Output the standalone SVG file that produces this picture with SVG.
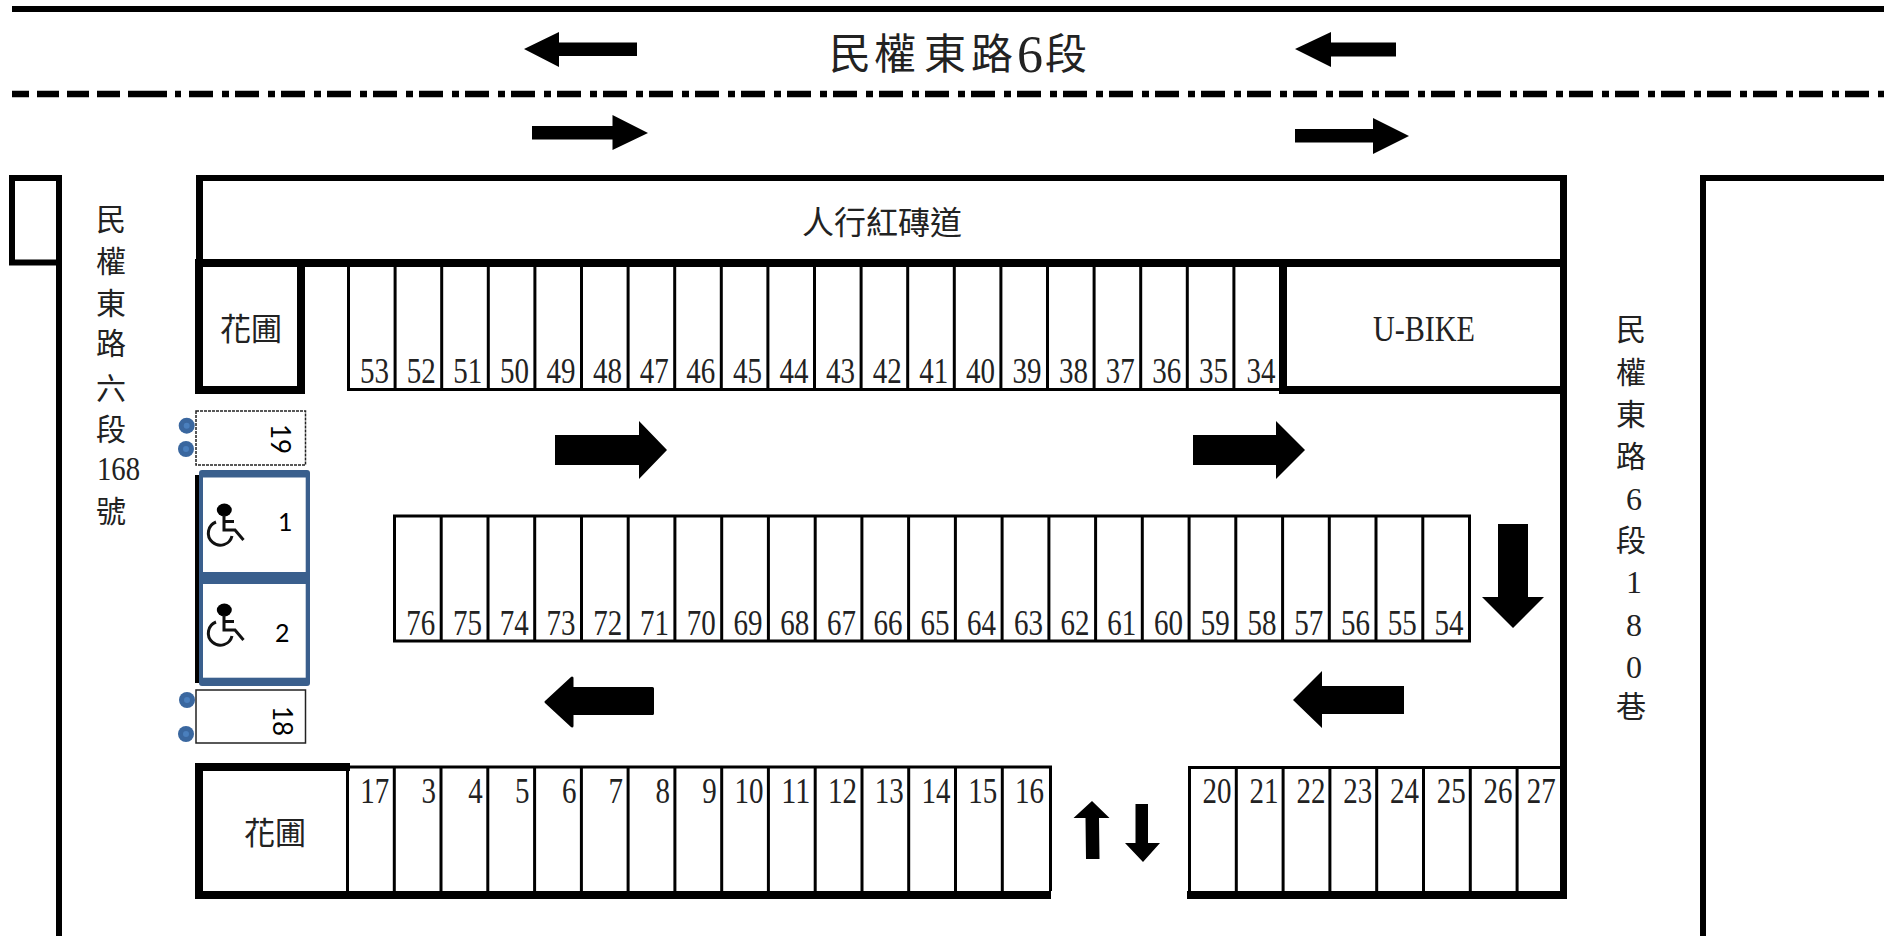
<svg xmlns="http://www.w3.org/2000/svg" width="1884" height="936" viewBox="0 0 1884 936">
<style>
.cjk{font-family:"Liberation Serif","Noto Sans CJK TC","Noto Sans CJK SC",serif;fill:#222;font-size:30px}
.n{font-family:"Liberation Serif",serif;font-size:35px;fill:#222;text-anchor:end}
.s{font-family:Lato,"Open Sans",sans-serif;font-size:25px;fill:#000}
.thin{fill:none;stroke:#000;stroke-width:3}
.wall{fill:#000}
.dot{fill:#3a679f}
.dotc{fill:#4a7fbd}
.box{fill:#fff;stroke:#222;stroke-width:1.5}
</style>
<defs>
<g id="wc"><ellipse cx="224.300" cy="510" rx="7.500" ry="6.500" fill="#000"/><path d="M224 515V530H235L243.500 540M224 521.500H234M216 522A12 12 0 1 0 232 536" fill="none" stroke="#111" stroke-width="3"/></g>
</defs>
<rect width="1884" height="936" fill="#fff"/>

<g id="road">
<rect class="wall" x="12" y="6" width="1872" height="6"/>
<path d="M12 94H29M37 94H59M67 94H89M97 94H120M128 94H167M175 94H181" stroke="#000" stroke-width="6.500" fill="none"/>
<path d="M189 94H1884" stroke="#000" stroke-width="6.500" stroke-dasharray="24 9 7 6" fill="none"/>
<path class="wall" d="M524 49L559 32V42.500H637V56H559V67Z"/>
<path class="wall" d="M532 126H612.500V115L648 133L612.500 150V139.500H532Z"/>
<path class="wall" d="M1295 49L1331 32V42.500H1396V56.500H1331V67Z"/>
<path class="wall" d="M1295 129H1373V118L1409 136L1373 154V142.500H1295Z"/>
<text class="cjk" style="font-size:42px" y="69"><tspan x="829 874 924 971">民權東路</tspan><tspan x="1017" style="font-size:52px" y="72">6</tspan><tspan x="1045" y="69">段</tspan></text>
</g>

<g id="buildings">
<path d="M59 936V262.500H12V178H59V262" fill="none" stroke="#000" stroke-width="6"/>
<path d="M1703 936V178H1884" fill="none" stroke="#000" stroke-width="6"/>
</g>

<g id="walls">
<rect class="wall" x="196" y="175" width="1370" height="6"/>
<rect class="wall" x="196" y="175" width="7" height="90"/>
<rect class="wall" x="1560" y="175" width="7" height="724"/>
<rect class="wall" x="195" y="259" width="1372" height="8"/>
<rect class="wall" x="195" y="259" width="8" height="135"/>
<rect class="wall" x="297" y="259" width="8" height="135"/>
<rect class="wall" x="195" y="386" width="110" height="8"/>
<rect class="wall" x="1279" y="259" width="8" height="135"/>
<rect class="wall" x="1279" y="386" width="288" height="8"/>
<rect class="wall" x="195" y="763" width="155" height="8"/>
<rect class="wall" x="195" y="763" width="8" height="136"/>
<rect class="wall" x="195" y="891" width="856" height="8"/>
<rect class="wall" x="1187" y="891" width="380" height="8"/>
</g>

<g id="stalls">
<path class="thin" d="M348.500 267V389.500H1280M395.100 267V389M441.700 267V389M488.300 267V389M534.900 267V389M581.500 267V389M628.100 267V389M674.700 267V389M721.300 267V389M767.900 267V389M814.500 267V389M861.100 267V389M907.700 267V389M954.300 267V389M1000.900 267V389M1047.500 267V389M1094.100 267V389M1140.700 267V389M1187.300 267V389M1233.900 267V389"/>
<rect class="thin" x="394.500" y="516" width="1075" height="125"/>
<path class="thin" d="M441.200 516V641M488 516V641M534.700 516V641M581.500 516V641M628.200 516V641M674.900 516V641M721.700 516V641M768.400 516V641M815.200 516V641M861.900 516V641M908.600 516V641M955.400 516V641M1002.100 516V641M1048.900 516V641M1095.600 516V641M1142.300 516V641M1189.100 516V641M1235.800 516V641M1282.600 516V641M1329.300 516V641M1376 516V641M1422.800 516V641"/>
<path class="thin" d="M347.500 767V891M350 767H1050.500V891M394.300 767V891M441 767V891M487.800 767V891M534.600 767V891M581.400 767V891M628.100 767V891M674.900 767V891M721.700 767V891M768.400 767V891M815.200 767V891M862 767V891M908.700 767V891M955.500 767V891M1002.300 767V891"/>
<path class="thin" d="M1189.500 891V767.500H1560M1236.300 767V891M1283.100 767V891M1329.900 767V891M1376.700 767V891M1423.500 767V891M1470.300 767V891M1517.100 767V891"/>
</g>

<g id="labels-top">
<text class="n" x="389.100" y="383" textLength="29" lengthAdjust="spacingAndGlyphs">53</text>
<text class="n" x="435.700" y="383" textLength="29" lengthAdjust="spacingAndGlyphs">52</text>
<text class="n" x="482.300" y="383" textLength="29" lengthAdjust="spacingAndGlyphs">51</text>
<text class="n" x="528.900" y="383" textLength="29" lengthAdjust="spacingAndGlyphs">50</text>
<text class="n" x="575.500" y="383" textLength="29" lengthAdjust="spacingAndGlyphs">49</text>
<text class="n" x="622.100" y="383" textLength="29" lengthAdjust="spacingAndGlyphs">48</text>
<text class="n" x="668.700" y="383" textLength="29" lengthAdjust="spacingAndGlyphs">47</text>
<text class="n" x="715.300" y="383" textLength="29" lengthAdjust="spacingAndGlyphs">46</text>
<text class="n" x="761.900" y="383" textLength="29" lengthAdjust="spacingAndGlyphs">45</text>
<text class="n" x="808.500" y="383" textLength="29" lengthAdjust="spacingAndGlyphs">44</text>
<text class="n" x="855.100" y="383" textLength="29" lengthAdjust="spacingAndGlyphs">43</text>
<text class="n" x="901.700" y="383" textLength="29" lengthAdjust="spacingAndGlyphs">42</text>
<text class="n" x="948.300" y="383" textLength="29" lengthAdjust="spacingAndGlyphs">41</text>
<text class="n" x="994.900" y="383" textLength="29" lengthAdjust="spacingAndGlyphs">40</text>
<text class="n" x="1041.500" y="383" textLength="29" lengthAdjust="spacingAndGlyphs">39</text>
<text class="n" x="1088.100" y="383" textLength="29" lengthAdjust="spacingAndGlyphs">38</text>
<text class="n" x="1134.700" y="383" textLength="29" lengthAdjust="spacingAndGlyphs">37</text>
<text class="n" x="1181.300" y="383" textLength="29" lengthAdjust="spacingAndGlyphs">36</text>
<text class="n" x="1227.900" y="383" textLength="29" lengthAdjust="spacingAndGlyphs">35</text>
<text class="n" x="1275.500" y="383" textLength="29" lengthAdjust="spacingAndGlyphs">34</text>
</g>

<g id="labels-middle">
<text class="n" x="435.200" y="635" textLength="29" lengthAdjust="spacingAndGlyphs">76</text>
<text class="n" x="482" y="635" textLength="29" lengthAdjust="spacingAndGlyphs">75</text>
<text class="n" x="528.700" y="635" textLength="29" lengthAdjust="spacingAndGlyphs">74</text>
<text class="n" x="575.500" y="635" textLength="29" lengthAdjust="spacingAndGlyphs">73</text>
<text class="n" x="622.200" y="635" textLength="29" lengthAdjust="spacingAndGlyphs">72</text>
<text class="n" x="668.900" y="635" textLength="29" lengthAdjust="spacingAndGlyphs">71</text>
<text class="n" x="715.700" y="635" textLength="29" lengthAdjust="spacingAndGlyphs">70</text>
<text class="n" x="762.400" y="635" textLength="29" lengthAdjust="spacingAndGlyphs">69</text>
<text class="n" x="809.200" y="635" textLength="29" lengthAdjust="spacingAndGlyphs">68</text>
<text class="n" x="855.900" y="635" textLength="29" lengthAdjust="spacingAndGlyphs">67</text>
<text class="n" x="902.600" y="635" textLength="29" lengthAdjust="spacingAndGlyphs">66</text>
<text class="n" x="949.400" y="635" textLength="29" lengthAdjust="spacingAndGlyphs">65</text>
<text class="n" x="996.100" y="635" textLength="29" lengthAdjust="spacingAndGlyphs">64</text>
<text class="n" x="1042.900" y="635" textLength="29" lengthAdjust="spacingAndGlyphs">63</text>
<text class="n" x="1089.600" y="635" textLength="29" lengthAdjust="spacingAndGlyphs">62</text>
<text class="n" x="1136.300" y="635" textLength="29" lengthAdjust="spacingAndGlyphs">61</text>
<text class="n" x="1183.100" y="635" textLength="29" lengthAdjust="spacingAndGlyphs">60</text>
<text class="n" x="1229.800" y="635" textLength="29" lengthAdjust="spacingAndGlyphs">59</text>
<text class="n" x="1276.600" y="635" textLength="29" lengthAdjust="spacingAndGlyphs">58</text>
<text class="n" x="1323.300" y="635" textLength="29" lengthAdjust="spacingAndGlyphs">57</text>
<text class="n" x="1370" y="635" textLength="29" lengthAdjust="spacingAndGlyphs">56</text>
<text class="n" x="1416.800" y="635" textLength="29" lengthAdjust="spacingAndGlyphs">55</text>
<text class="n" x="1463.500" y="635" textLength="29" lengthAdjust="spacingAndGlyphs">54</text>
</g>

<g id="labels-bottom">
<text class="n" x="389.300" y="803" textLength="29" lengthAdjust="spacingAndGlyphs">17</text>
<text class="n" x="436" y="803" textLength="14.500" lengthAdjust="spacingAndGlyphs">3</text>
<text class="n" x="482.800" y="803" textLength="14.500" lengthAdjust="spacingAndGlyphs">4</text>
<text class="n" x="529.600" y="803" textLength="14.500" lengthAdjust="spacingAndGlyphs">5</text>
<text class="n" x="576.400" y="803" textLength="14.500" lengthAdjust="spacingAndGlyphs">6</text>
<text class="n" x="623.100" y="803" textLength="14.500" lengthAdjust="spacingAndGlyphs">7</text>
<text class="n" x="669.900" y="803" textLength="14.500" lengthAdjust="spacingAndGlyphs">8</text>
<text class="n" x="716.700" y="803" textLength="14.500" lengthAdjust="spacingAndGlyphs">9</text>
<text class="n" x="763.400" y="803" textLength="29" lengthAdjust="spacingAndGlyphs">10</text>
<text class="n" x="810.200" y="803" textLength="29" lengthAdjust="spacingAndGlyphs">11</text>
<text class="n" x="857" y="803" textLength="29" lengthAdjust="spacingAndGlyphs">12</text>
<text class="n" x="903.700" y="803" textLength="29" lengthAdjust="spacingAndGlyphs">13</text>
<text class="n" x="950.500" y="803" textLength="29" lengthAdjust="spacingAndGlyphs">14</text>
<text class="n" x="997.300" y="803" textLength="29" lengthAdjust="spacingAndGlyphs">15</text>
<text class="n" x="1044" y="803" textLength="29" lengthAdjust="spacingAndGlyphs">16</text>
<text class="n" x="1231.500" y="803" textLength="29" lengthAdjust="spacingAndGlyphs">20</text>
<text class="n" x="1278.600" y="803" textLength="29" lengthAdjust="spacingAndGlyphs">21</text>
<text class="n" x="1325.400" y="803" textLength="29" lengthAdjust="spacingAndGlyphs">22</text>
<text class="n" x="1372.200" y="803" textLength="29" lengthAdjust="spacingAndGlyphs">23</text>
<text class="n" x="1419" y="803" textLength="29" lengthAdjust="spacingAndGlyphs">24</text>
<text class="n" x="1465.800" y="803" textLength="29" lengthAdjust="spacingAndGlyphs">25</text>
<text class="n" x="1512.600" y="803" textLength="29" lengthAdjust="spacingAndGlyphs">26</text>
<text class="n" x="1555.700" y="803" textLength="29" lengthAdjust="spacingAndGlyphs">27</text>
</g>

<g id="arrows">
<path class="wall" d="M555 435H639V421L667 450L639 479V465H555Z"/>
<path class="wall" d="M1193 435H1276V421L1305 450L1276 479V465H1193Z"/>
<path class="wall" d="M1498 524H1528V597H1544L1513 628L1482 597H1498Z"/>
<path class="wall" d="M1293 700L1322 671V686H1404V714H1322V728Z"/>
<path class="wall" stroke="#000" stroke-width="3" stroke-linejoin="round" d="M546 702L572 678V688.500H652.500V713.500H572V726Z"/>
<path class="wall" d="M1092 801L1109.500 818H1099L1099.500 859H1086L1085.500 818H1073.500Z"/>
<path class="wall" d="M1135.500 804H1148V843H1160L1143 862L1125 843H1135.500Z"/>
</g>

<g id="accessible">
<rect class="wall" x="195" y="475" width="5" height="208"/>
<rect x="199" y="470" width="111" height="216" rx="3" fill="#3a5f8d"/>
<rect x="203" y="477.500" width="102.700" height="94.500" fill="#fff"/>
<rect x="203" y="584" width="102.700" height="93.700" fill="#fff"/>
<use href="#wc"/>
<use href="#wc" y="100"/>
<text class="s" x="278" y="531">1</text>
<text class="s" x="275" y="642">2</text>
</g>

<g id="motor">
<rect class="box" x="196" y="411" width="109.500" height="54" stroke-dasharray="3 1"/>
<text class="s" transform="translate(271 424) rotate(90)" style="font-size:26px">19</text>
<circle class="dot" cx="186.700" cy="425.700" r="8"/><circle class="dotc" cx="186.700" cy="425.700" r="3"/>
<circle class="dot" cx="186" cy="449" r="8"/><circle class="dotc" cx="186" cy="449" r="3"/>
<rect class="box" x="196" y="690" width="109.500" height="53"/>
<text class="s" transform="translate(273 706) rotate(90)" style="font-size:26px">18</text>
<circle class="dot" cx="187" cy="700" r="8"/><circle class="dotc" cx="187" cy="700" r="3"/>
<circle class="dot" cx="186" cy="734" r="8"/><circle class="dotc" cx="186" cy="734" r="3"/>
</g>

<g id="text-labels">
<text class="cjk" style="font-size:32px" x="802" y="234">人行紅磚道</text>
<text class="cjk" style="font-size:31px" x="220" y="340">花圃</text>
<text class="cjk" style="font-size:31px" x="244" y="844">花圃</text>
<text x="1373" y="341" textLength="102" lengthAdjust="spacingAndGlyphs" style="font-family:'Liberation Serif',serif;font-size:35px;fill:#222">U-BIKE</text>
<text class="cjk" x="96" y="230">民</text>
<text class="cjk" x="96" y="272">權</text>
<text class="cjk" x="96" y="314">東</text>
<text class="cjk" x="96" y="354">路</text>
<text class="cjk" x="96" y="399">六</text>
<text class="cjk" x="96" y="440">段</text>
<text x="97" y="480" textLength="43" lengthAdjust="spacingAndGlyphs" style="font-family:'Liberation Serif',serif;font-size:33px;fill:#222">168</text>
<text class="cjk" x="96" y="522">號</text>
<text class="cjk" x="1616" y="340">民</text>
<text class="cjk" x="1616" y="383">權</text>
<text class="cjk" x="1616" y="425">東</text>
<text class="cjk" x="1616" y="467">路</text>
<text x="1634" y="510" text-anchor="middle" style="font-family:'Liberation Serif',serif;font-size:32px;fill:#222">6</text>
<text class="cjk" x="1616" y="551">段</text>
<text x="1634" y="593" text-anchor="middle" style="font-family:'Liberation Serif',serif;font-size:32px;fill:#222">1</text>
<text x="1634" y="636" text-anchor="middle" style="font-family:'Liberation Serif',serif;font-size:32px;fill:#222">8</text>
<text x="1634" y="678" text-anchor="middle" style="font-family:'Liberation Serif',serif;font-size:32px;fill:#222">0</text>
<text class="cjk" x="1616" y="717">巷</text>
</g>
</svg>
